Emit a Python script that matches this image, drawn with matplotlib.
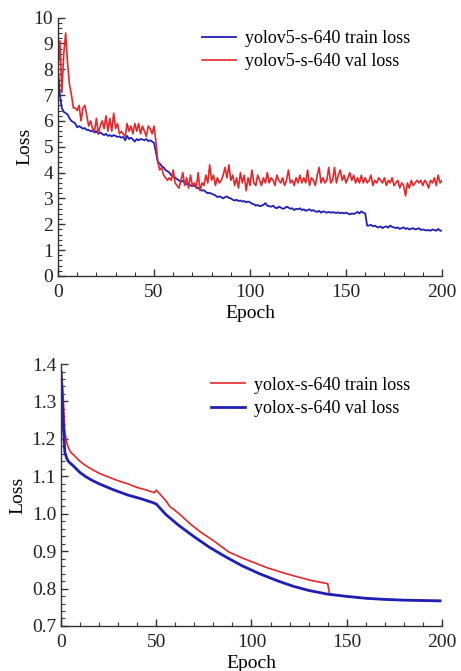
import numpy as np
import matplotlib
matplotlib.use("Agg")
import matplotlib.pyplot as plt
from matplotlib.ticker import MultipleLocator

plt.rcParams['font.family'] = ['Liberation Serif', 'DejaVu Serif']

# ---- top chart: yolov5-s-640 ----
v5_epochs = list(range(0, 201))
v5_train = [8.0, 7.0, 6.5, 6.35, 6.3, 6.25, 6.1, 6.0, 5.95, 5.9,
            5.75, 5.8, 5.75, 5.7, 5.72, 5.65, 5.65, 5.6, 5.62, 5.55,
            5.6, 5.5, 5.55, 5.5, 5.45, 5.5, 5.42, 5.45, 5.4, 5.45,
            5.42, 5.38, 5.4, 5.35, 5.38, 5.25, 5.42, 5.3, 5.35, 5.28,
            5.2, 5.3, 5.25, 5.3, 5.28, 5.25, 5.3, 5.22, 5.25, 5.2,
            5.15, 4.8, 4.4, 4.35, 4.25, 4.2, 4.1, 4.05, 4.0, 3.9,
            3.85, 3.8, 3.75, 3.7, 3.65, 3.68, 3.6, 3.55, 3.58, 3.5,
            3.48, 3.5, 3.42, 3.4, 3.35, 3.3, 3.32, 3.25, 3.2, 3.22,
            3.18, 3.15, 3.12, 3.05, 3.08, 3.05, 3.0, 3.05, 3.08, 3.02,
            3.0, 2.95, 2.92, 2.95, 2.9, 2.92, 2.88, 2.9, 2.85, 2.88,
            2.85, 2.8, 2.78, 2.72, 2.75, 2.7, 2.72, 2.75, 2.82, 2.72,
            2.7, 2.68, 2.72, 2.65, 2.62, 2.68, 2.65, 2.6, 2.62, 2.68,
            2.65, 2.6, 2.62, 2.55, 2.6, 2.58, 2.62, 2.55, 2.58, 2.52,
            2.55, 2.58, 2.52, 2.55, 2.5, 2.48, 2.52, 2.45, 2.5, 2.48,
            2.45, 2.48, 2.45, 2.47, 2.45, 2.44, 2.46, 2.43, 2.45, 2.42,
            2.45, 2.42, 2.38, 2.42, 2.4, 2.43, 2.48, 2.42, 2.5, 2.45,
            2.42, 1.95, 1.95, 1.98, 1.92, 1.95, 1.9, 1.88, 1.92, 1.85,
            1.9, 1.92, 1.87, 1.95, 1.9, 1.88, 1.85, 1.88, 1.82, 1.85,
            1.88, 1.82, 1.85, 1.8, 1.83, 1.85, 1.8, 1.82, 1.85, 1.78,
            1.8, 1.78, 1.76, 1.78, 1.75, 1.8, 1.78, 1.75, 1.82, 1.75,
            1.76]
v5_val = [8.0, 9.1, 7.1, 8.6, 9.4, 8.2, 7.4, 7.0, 6.5, 6.5,
          6.4, 6.6, 6.0, 6.5, 6.6, 6.2, 5.8, 6.0, 5.7, 5.6,
          6.1, 5.5, 5.8, 6.0, 5.7, 6.2, 5.6, 6.1, 5.6, 6.3,
          5.7, 5.9, 5.5, 5.6, 5.5, 5.4, 5.9, 5.6, 5.8, 5.5,
          5.9, 5.6, 5.9, 5.5, 5.8, 5.6, 5.4, 5.8, 5.7, 5.5,
          5.8, 5.2, 4.4, 4.1, 4.2, 3.9, 3.8, 3.7, 3.8, 3.7,
          4.1, 3.6, 3.5, 3.4, 3.7, 4.0, 3.5, 3.8, 3.4, 3.9,
          3.5, 3.6, 3.4, 4.0, 3.3, 3.6, 3.5, 3.9, 3.6, 4.3,
          3.7, 3.9, 3.5, 3.8, 3.6, 3.7, 3.9, 4.2, 3.8, 4.3,
          3.7, 3.9, 3.5, 3.8, 3.4, 4.0, 3.6, 3.9, 3.3, 3.8,
          3.5, 4.1, 3.6, 3.5, 3.9, 3.7, 3.5, 3.8, 3.6, 4.0,
          3.6, 3.8, 3.7, 3.5, 3.9, 3.7, 3.6, 3.8, 3.5, 3.7,
          4.1, 3.6, 3.7, 3.5, 3.8, 3.6, 3.9, 3.6, 3.8, 3.6,
          4.1, 3.5, 3.8, 3.7, 3.5, 3.9, 4.2, 3.6, 3.8, 3.6,
          3.7, 4.2, 3.6, 3.7, 4.2, 3.6, 3.9, 4.1, 3.7, 3.9,
          3.6, 3.8, 4.0, 3.7, 3.9, 3.6, 3.8, 3.6, 3.9, 3.6,
          3.8, 3.6, 3.7, 3.9, 3.5, 3.7, 3.6, 3.8, 3.7, 3.6,
          3.8, 3.5, 3.7, 3.6, 3.8, 3.5, 3.6, 3.7, 3.4, 3.6,
          3.5, 3.1, 3.6, 3.4, 3.7, 3.5, 3.6, 3.7, 3.6, 3.7,
          3.5, 3.7, 3.6, 3.4, 3.7, 3.6, 3.8, 3.5, 3.9, 3.6,
          3.7]

# ---- bottom chart: yolox-s-640 ----
x_train_ep = [0, 1, 2, 3, 4, 5, 6, 8, 10, 12, 15, 20, 25, 30, 35, 40, 45, 49,
              50, 52, 55, 57, 62, 68, 73, 80, 88, 95, 100, 108, 118, 125, 131,
              140, 141, 150, 160, 170, 180, 190, 199]
x_train = [1.39, 1.33, 1.22, 1.19, 1.175, 1.165, 1.16, 1.15, 1.14, 1.132, 1.122,
           1.108, 1.098, 1.088, 1.08, 1.07, 1.063, 1.056, 1.063, 1.052, 1.035,
           1.02, 1.0, 0.972, 0.952, 0.928, 0.898, 0.882, 0.872, 0.856, 0.84,
           0.83, 0.822, 0.813, 0.785, 0.779, 0.774, 0.771, 0.769, 0.768, 0.768]
x_val_ep = [0, 1, 2, 3, 4, 6, 8, 10, 13, 16, 20, 27, 35, 42, 48, 50, 55, 62, 70,
            78, 86, 95, 104, 114, 122, 130, 140, 150, 160, 170, 180, 190, 199]
x_val = [1.38, 1.26, 1.165, 1.148, 1.139, 1.13, 1.12, 1.11, 1.099, 1.09, 1.08,
         1.065, 1.05, 1.04, 1.03, 1.026, 0.998, 0.968, 0.938, 0.91, 0.886,
         0.861, 0.84, 0.82, 0.806, 0.795, 0.785, 0.779, 0.774, 0.771, 0.769,
         0.768, 0.767]

RED = '#e8262a'
BLUE = '#1f1fb8'

fig = plt.figure(figsize=(4.61, 6.71), dpi=100)
ax1 = fig.add_axes([0.1258, 0.5887, 0.833, 0.3852])
ax2 = fig.add_axes([0.1323, 0.0671, 0.8265, 0.3904])

ax1.plot(v5_epochs, v5_train, color=BLUE, lw=1.3, label='yolov5-s-640 train loss')
ax1.plot(v5_epochs, v5_val, color=RED, lw=1.2, label='yolov5-s-640 val loss')
ax1.set_xlim(0, 200)
ax1.set_ylim(0, 10)
ax1.xaxis.set_major_locator(MultipleLocator(50))
ax1.xaxis.set_minor_locator(MultipleLocator(10))
ax1.yaxis.set_major_locator(MultipleLocator(1))
ax1.yaxis.set_minor_locator(MultipleLocator(0.2))

ax2.plot(x_train_ep, x_train, color=RED, lw=1.2, label='yolox-s-640 train loss')
ax2.plot(x_val_ep, x_val, color=BLUE, lw=2.0, label='yolox-s-640 val loss')
ax2.set_xlim(0, 200)
ax2.set_ylim(0.7, 1.4)
ax2.xaxis.set_major_locator(MultipleLocator(50))
ax2.xaxis.set_minor_locator(MultipleLocator(10))
ax2.yaxis.set_major_locator(MultipleLocator(0.1))
ax2.yaxis.set_minor_locator(MultipleLocator(0.02))
ax2.yaxis.set_major_formatter(matplotlib.ticker.FormatStrFormatter('%.1f'))

for ax, ypad in ((ax1, 0), (ax2, 4)):
    for s in ('top', 'right'):
        ax.spines[s].set_visible(False)
    for s in ('left', 'bottom'):
        ax.spines[s].set_color('#333333')
        ax.spines[s].set_linewidth(1.0)
    ax.tick_params(which='both', direction='in', colors='#333333',
                   labelsize=14, labelcolor='#222222')
    ax.tick_params(which='major', length=5, width=1.0)
    ax.tick_params(which='minor', length=3, width=0.8)
    ax.tick_params(axis='x', pad=6)
    ax.set_xlabel('Epoch', fontsize=14, labelpad=3)
    ax.set_ylabel('Loss', fontsize=14, labelpad=ypad)
    ax.legend(loc='upper right', bbox_to_anchor=(0.95, 1.0), frameon=False,
              fontsize=13, handlelength=1.9, handletextpad=0.5,
              borderaxespad=0.3, labelspacing=0.35)

fig.savefig('out.png', dpi=100)
